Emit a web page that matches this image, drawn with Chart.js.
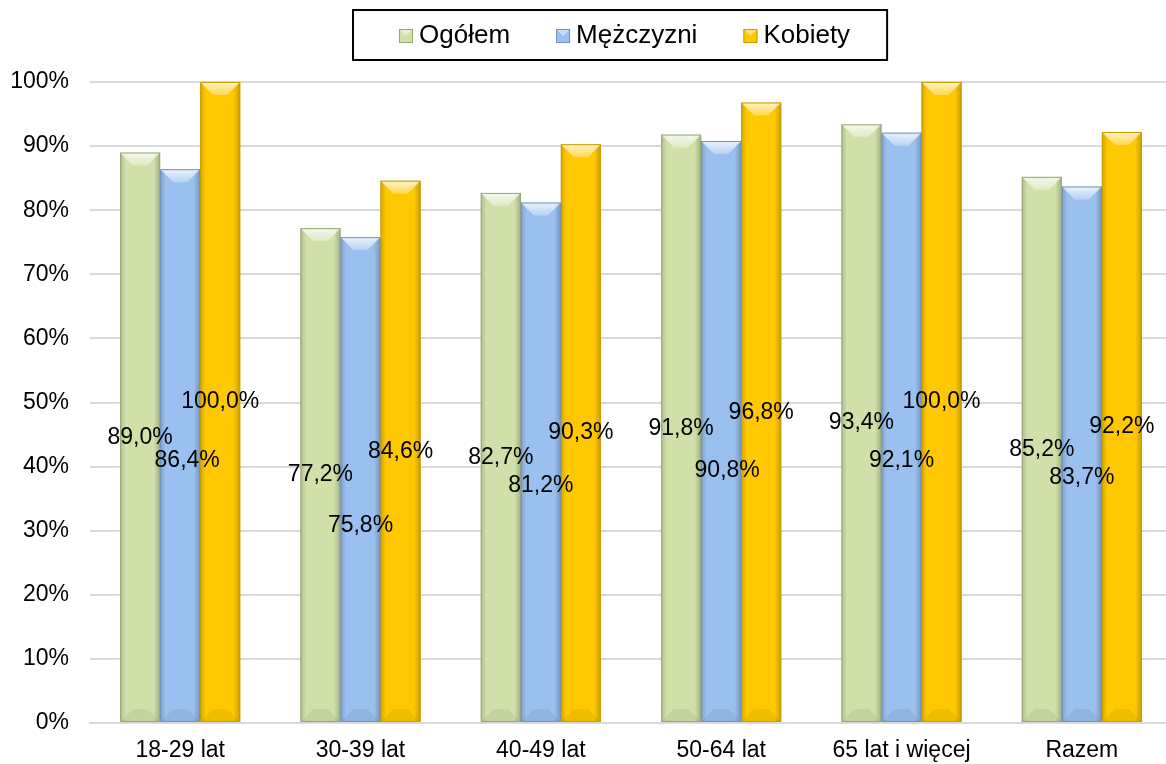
<!DOCTYPE html>
<html lang="pl">
<head>
<meta charset="utf-8">
<title>Odsetek wg wieku</title>
<script src="https://cdn.jsdelivr.net/npm/chart.js@4/dist/chart.umd.min.js"></script>
<style>
  html, body { margin: 0; padding: 0; background: #fff; overflow: hidden; }
  #wrap { width: 1180px; height: 764px; position: relative; }
</style>
</head>
<body>
<div id="wrap"><canvas id="chart"></canvas></div>
<script>
const FONT = '"Liberation Sans", Arial, sans-serif';

const categories = ['18-29 lat', '30-39 lat', '40-49 lat', '50-64 lat', '65 lat i więcej', 'Razem'];
const seriesNames = ['Ogółem', 'Mężczyzni', 'Kobiety'];
const ogolem = [89.0, 77.2, 82.7, 91.8, 93.4, 85.2];
const mezczyzni = [86.4, 75.8, 81.2, 90.8, 92.1, 83.7];
const kobiety = [100.0, 84.6, 90.3, 96.8, 100.0, 92.2];
const yTicks = [0, 10, 20, 30, 40, 50, 60, 70, 80, 90, 100];

// label nudges (px) for the men's series, the rest sit centred in the bar
const menLabelShift = [[7, 15], [0, 46], [0, 23], [6, 39], [0, 33], [0, 23]];

const fills = ['#d0e0a8', '#99c0ee', '#ffc800'];
const edges = ['#95a872', '#6f92c2', '#c89b00'];

const fmt = v => v.toFixed(1).replace('.', ',') + '%';

// bevelled look drawn over the flat bars
const bevelPlugin = {
  id: 'bevel',
  afterDatasetsDraw(chart) {
    const ctx = chart.ctx;
    chart.data.datasets.forEach((ds, di) => {
      chart.getDatasetMeta(di).data.forEach(bar => {
        const w = bar.width, l = bar.x - w / 2, r = bar.x + w / 2;
        const t = bar.y, b = bar.base, d = Math.min(13, w * 0.33);
        ctx.save();
        const g = ctx.createLinearGradient(l, 0, r, 0);
        g.addColorStop(0, 'rgba(0,0,0,0.16)');
        g.addColorStop(0.14, 'rgba(0,0,0,0)');
        g.addColorStop(0.84, 'rgba(0,0,0,0)');
        g.addColorStop(1, 'rgba(0,0,0,0.22)');
        ctx.fillStyle = g;
        ctx.fillRect(l, t, w, b - t);

        const tg = ctx.createLinearGradient(0, t, 0, t + d);
        tg.addColorStop(0, 'rgba(255,255,255,0.8)');
        tg.addColorStop(1, 'rgba(255,255,255,0.3)');
        ctx.fillStyle = tg;
        ctx.beginPath();
        ctx.moveTo(l, t); ctx.lineTo(r, t); ctx.lineTo(r - d, t + d); ctx.lineTo(l + d, t + d);
        ctx.closePath(); ctx.fill();

        ctx.fillStyle = 'rgba(0,0,0,0.06)';
        ctx.beginPath();
        ctx.moveTo(l, b); ctx.lineTo(r, b); ctx.lineTo(r - d, b - d); ctx.lineTo(l + d, b - d);
        ctx.closePath(); ctx.fill();

        ctx.strokeStyle = edges[di];
        ctx.lineWidth = 1;
        ctx.strokeRect(l + 0.5, t + 0.5, w - 1, b - t - 1);
        ctx.restore();
      });
    });
  }
};

// value labels in the middle of each bar
const valuePlugin = {
  id: 'values',
  afterDatasetsDraw(chart) {
    const ctx = chart.ctx;
    ctx.save();
    ctx.font = '23px ' + FONT;
    ctx.fillStyle = '#000';
    ctx.textAlign = 'center';
    ctx.textBaseline = 'middle';
    chart.data.datasets.forEach((ds, di) => {
      chart.getDatasetMeta(di).data.forEach((bar, i) => {
        const shift = di === 1 ? menLabelShift[i] : [0, 0];
        ctx.fillText(fmt(ds.data[i]), bar.x + shift[0], (bar.y + bar.base) / 2 + shift[1]);
      });
    });
    ctx.restore();
  }
};

// framed legend at the top
const legendPlugin = {
  id: 'boxLegend',
  afterDraw(chart) {
    const ctx = chart.ctx;
    ctx.save();
    ctx.font = '26px ' + FONT;
    const box = 14, gap = 6, itemGap = 46, padL = 46, padR = 37;
    const widths = chart.data.datasets.map(ds => ctx.measureText(ds.label).width);
    const content = widths.reduce((s, w) => s + box + gap + w, 0) + itemGap * (widths.length - 1);
    const left = 353, top = 10, height = 50;
    const width = padL + content + padR;
    ctx.fillStyle = '#fff';
    ctx.fillRect(left, top, width, height);
    ctx.strokeStyle = '#000';
    ctx.lineWidth = 2;
    ctx.strokeRect(left, top, width, height);
    let x = left + padL;
    const cy = top + height / 2;
    chart.data.datasets.forEach((ds, di) => {
      ctx.fillStyle = fills[di];
      ctx.fillRect(x, cy - box / 2 + 1, box, box);
      ctx.fillStyle = 'rgba(255,255,255,0.45)';
      ctx.beginPath();
      ctx.moveTo(x, cy - box / 2 + 1); ctx.lineTo(x + box, cy - box / 2 + 1); ctx.lineTo(x + box / 2, cy + 1);
      ctx.closePath(); ctx.fill();
      ctx.strokeStyle = edges[di];
      ctx.lineWidth = 1;
      ctx.strokeRect(x + 0.5, cy - box / 2 + 1.5, box - 1, box - 1);
      x += box + gap;
      ctx.fillStyle = '#000';
      ctx.textAlign = 'left';
      ctx.textBaseline = 'middle';
      ctx.fillText(ds.label, x, cy + 1);
      x += widths[di] + itemGap;
    });
    ctx.restore();
  }
};

new Chart(document.getElementById('chart'), {
  type: 'bar',
  data: {
    labels: categories,
    datasets: [ogolem, mezczyzni, kobiety].map((vals, i) => ({
      label: seriesNames[i],
      data: vals,
      backgroundColor: fills[i],
      borderWidth: 0,
      categoryPercentage: 0.666,
      barPercentage: 1
    }))
  },
  options: {
    responsive: true,
    maintainAspectRatio: false,
    animation: false,
    layout: { padding: { top: 82, left: 10, right: 8, bottom: 0 } },
    plugins: {
      legend: { display: false },
      tooltip: { enabled: false }
    },
    scales: {
      x: {
        afterFit: axis => { axis.height = 41; },
        grid: { display: false, drawTicks: false },
        border: { display: true, color: '#d9d9d9', width: 2 },
        ticks: { color: '#000', font: { family: FONT, size: 23 }, padding: 14, maxRotation: 0 }
      },
      y: {
        min: 0,
        max: 100,
        afterBuildTicks: axis => { axis.ticks = yTicks.map(v => ({ value: v })); },
        afterFit: axis => { axis.width = 80; },
        grid: { color: '#d9d9d9', lineWidth: 2, drawTicks: false },
        border: { display: false },
        ticks: { color: '#000', font: { family: FONT, size: 23 }, padding: 21, callback: v => v + '%' }
      }
    }
  },
  plugins: [bevelPlugin, valuePlugin, legendPlugin]
});
</script>
</body>
</html>
